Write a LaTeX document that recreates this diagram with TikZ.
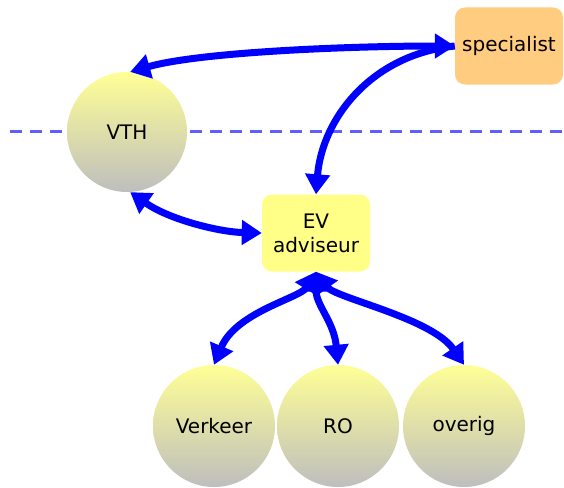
\documentclass[tikz,border=0pt]{standalone}
\usepackage{fontspec}
\setmainfont{DejaVu Sans}
\usetikzlibrary{arrows.meta}
\definecolor{pijlblauw}{RGB}{0,0,255}
\definecolor{streepblauw}{RGB}{95,95,255}
\definecolor{geel}{RGB}{255,255,150}
\definecolor{grijs}{RGB}{190,190,190}
\definecolor{blokgeel}{RGB}{255,255,136}
\definecolor{oranje}{RGB}{255,204,128}
\tikzset{kop/.tip={Triangle[length=20pt,width=24pt]}}
\tikzset{bol/.style={circle, inner sep=0pt, top color=geel, bottom color=grijs, font=\fontsize{20}{24}\selectfont}}
\tikzset{blok/.style={rounded corners=10pt, inner sep=0pt, minimum width=108pt, minimum height=77pt, align=center, font=\fontsize{20}{24}\selectfont}}
\tikzset{pijl/.style={line width=7pt, pijlblauw, kop-kop}}
\tikzset{grens/.style={line width=3pt, streepblauw, dash pattern=on 12pt off 8pt}}

\begin{document}
\begin{tikzpicture}[x=1pt,y=-1pt]
      \useasboundingbox (0,0) rectangle (564,487);
      % Grens
      \draw[grens] (10,131) -- (564,131);
      % Knopen
      \node[bol, minimum size=120pt] (vth) at (127,132) {VTH};
      \node[blok, fill=oranje] (spec) at (509,46) {specialist};
      \node[blok, fill=blokgeel] (ev) at (316,233) {EV\\adviseur};
      \node[bol, minimum size=122pt] (verkeer) at (214,426) {Verkeer};
      \node[bol, minimum size=122pt] (ro) at (338,426) {RO};
      \node[bol, minimum size=122pt] (overig) at (464,426) {overig};
      % Pijlen
      \draw[pijl] (vth.87) .. controls (200,52) and (350,46) .. (spec.west);
      \draw[pijl, -kop] (spec.west) .. controls (370,55) and (322,120) .. (ev.north);
      \draw[pijl] (vth.-87) .. controls (170,220) and (220,232) .. (ev.west);
      \draw[pijl] (ev.south) .. controls (300,298) and (236,312) .. (verkeer.north);
      \draw[pijl] (ev.south) .. controls (316,305) and (334,322) .. (ro.north);
      \draw[pijl] (ev.south) .. controls (335,298) and (432,318) .. (overig.north);
\end{tikzpicture}
\end{document}
